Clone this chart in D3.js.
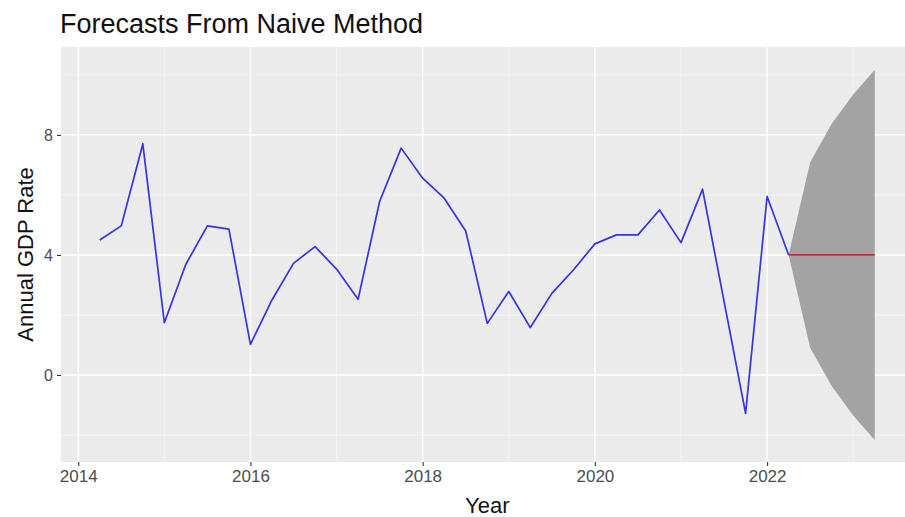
<!DOCTYPE html>
<html>
<head>
<meta charset="utf-8">
<script src="https://cdn.jsdelivr.net/npm/d3@7"></script>
<style>
  html, body { margin: 0; padding: 0; background: #ffffff; }
  svg { display: block; }
  text { font-family: "Liberation Sans", Arial, sans-serif; }
</style>
</head>
<body>
<svg id="chart" width="905" height="517"></svg>
<script>
// Quarterly annual GDP growth rate, 2014 Q2 – 2022 Q2
const startYear = 2014.25;
const gdpRate = [
  4.5, 4.97, 7.7, 1.74, 3.69, 4.97, 4.86, 1.02,
  2.5, 3.72, 4.28, 3.53, 2.52, 5.78, 7.56, 6.56,
  5.89, 4.8, 1.72, 2.78, 1.58, 2.72, 3.5, 4.37,
  4.67, 4.67, 5.5, 4.41, 6.19, 2.45, -1.28, 5.95,
  4.0
];

// Naive forecast (last value carried forward) with its prediction interval,
// anchored at the last observation
const forecastTime = [2022.25, 2022.5, 2022.75, 2023.0, 2023.25];
const forecastMean = [4.0, 4.0, 4.0, 4.0, 4.0];
const forecastUpper = [4.0, 7.09, 8.37, 9.35, 10.17];
const forecastLower = [4.0, 0.91, -0.37, -1.35, -2.17];

const xTicks = [2014, 2016, 2018, 2020, 2022];
const xMinor = [2015, 2017, 2019, 2021, 2023];
const yTicks = [0, 4, 8];
const yMinor = [-2, 2, 6, 10];

const titleText = "Forecasts From Naive Method";
const xTitle = "Year";
const yTitle = "Annual GDP Rate";

const svg = d3.select("#chart");
const panel = { left: 61, right: 913.5, top: 47, bottom: 462 };

const x = d3.scaleLinear().domain([2013.8, 2023.7]).range([panel.left, panel.right]);
const y = d3.scaleLinear().domain([-2.9, 10.93]).range([panel.bottom, panel.top]);

const series = gdpRate.map((v, i) => ({ t: startYear + i * 0.25, v }));
const fc = forecastTime.map((t, i) => ({
  t, mean: forecastMean[i], lo: forecastLower[i], hi: forecastUpper[i]
}));

// panel background
svg.append("rect")
  .attr("x", panel.left).attr("y", panel.top)
  .attr("width", panel.right - panel.left).attr("height", panel.bottom - panel.top)
  .attr("fill", "#ebebeb");

const grid = svg.append("g");
// minor grid
grid.selectAll(".hmin").data(yMinor).join("line")
  .attr("x1", panel.left).attr("x2", panel.right)
  .attr("y1", d => y(d)).attr("y2", d => y(d))
  .attr("stroke", "#f7f7f7").attr("stroke-width", 0.8);
grid.selectAll(".vmin").data(xMinor).join("line")
  .attr("y1", panel.top).attr("y2", panel.bottom)
  .attr("x1", d => x(d)).attr("x2", d => x(d))
  .attr("stroke", "#f7f7f7").attr("stroke-width", 0.8);
// major grid
grid.selectAll(".hmaj").data(yTicks).join("line")
  .attr("x1", panel.left).attr("x2", panel.right)
  .attr("y1", d => y(d)).attr("y2", d => y(d))
  .attr("stroke", "#ffffff").attr("stroke-width", 1.4);
grid.selectAll(".vmaj").data(xTicks).join("line")
  .attr("y1", panel.top).attr("y2", panel.bottom)
  .attr("x1", d => x(d)).attr("x2", d => x(d))
  .attr("stroke", "#ffffff").attr("stroke-width", 1.4);

// prediction interval
const band = d3.area()
  .x(d => x(d.t)).y0(d => y(d.lo)).y1(d => y(d.hi));
svg.append("path").datum(fc)
  .attr("d", band)
  .attr("fill", "#a3a3a3");

// observed series
const line = d3.line().x(d => x(d.t)).y(d => y(d.v));
svg.append("path").datum(series)
  .attr("d", line)
  .attr("fill", "none")
  .attr("stroke", "#3535e0")
  .attr("stroke-width", 1.7)
  .attr("stroke-linejoin", "round");

// point forecast
svg.append("path").datum(fc)
  .attr("d", d3.line().x(d => x(d.t)).y(d => y(d.mean)))
  .attr("fill", "none")
  .attr("stroke", "#c03434")
  .attr("stroke-width", 1.7);

// axes
const xAxis = d3.axisBottom(x).tickValues(xTicks).tickFormat(d3.format("d"))
  .tickSize(4).tickPadding(4);
const gx = svg.append("g").attr("transform", `translate(0,${panel.bottom})`).call(xAxis);
gx.select(".domain").remove();
gx.selectAll(".tick line").attr("stroke", "#333333").attr("stroke-width", 1.1);
gx.selectAll(".tick text").attr("fill", "#4d4d4d").attr("font-size", 17)
  .attr("font-family", "Liberation Sans, Arial, sans-serif");

const yAxis = d3.axisLeft(y).tickValues(yTicks).tickFormat(d3.format("d"))
  .tickSize(4).tickPadding(4);
const gy = svg.append("g").attr("transform", `translate(${panel.left},0)`).call(yAxis);
gy.select(".domain").remove();
gy.selectAll(".tick line").attr("stroke", "#333333").attr("stroke-width", 1.1);
gy.selectAll(".tick text").attr("fill", "#4d4d4d").attr("font-size", 16)
  .attr("font-family", "Liberation Sans, Arial, sans-serif");

// titles
svg.append("text")
  .attr("x", 60).attr("y", 33)
  .attr("font-size", 27).attr("fill", "#111111")
  .text(titleText);

svg.append("text")
  .attr("x", (panel.left + panel.right) / 2).attr("y", 513)
  .attr("text-anchor", "middle")
  .attr("font-size", 22).attr("fill", "#111111")
  .text(xTitle);

svg.append("text")
  .attr("transform", `translate(33,${(panel.top + panel.bottom) / 2}) rotate(-90)`)
  .attr("text-anchor", "middle")
  .attr("font-size", 22).attr("fill", "#111111")
  .text(yTitle);
</script>
</body>
</html>
